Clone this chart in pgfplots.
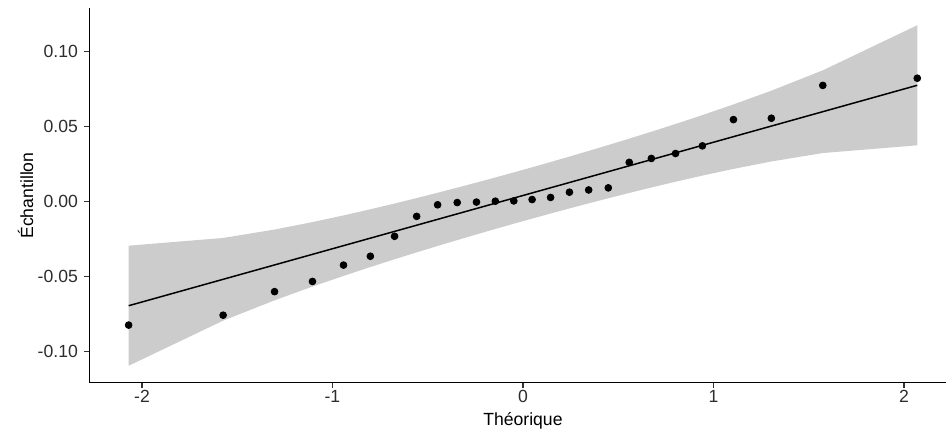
\documentclass[border=0pt]{standalone}
\usepackage{pgfplots}
\pgfplotsset{compat=1.18}
\usepackage{fontspec}
\setmainfont{Liberation Sans}
\definecolor{bandgray}{RGB}{204,204,204}
\definecolor{ticktext}{RGB}{45,45,45}

\begin{document}
\begin{tikzpicture}
\useasboundingbox (-44.65pt,-25.6pt) rectangle (428.35pt,191.4pt);
\begin{axis}[
  at={(0,0)}, anchor=south west,
  scale only axis, width=433.65pt, height=187.3pt,
  xmin=-2.2765, xmax=2.2765, ymin=-0.12088, ymax=0.12888,
  axis lines=left,
  axis line style={-, line width=0.6pt},
  tick align=outside, major tick length=2.6pt,
  tick style={line width=0.6pt, black!80},
  xtick={-2,-1,0,1,2},
  ytick={-0.1,-0.05,0,0.05,0.1},
  scaled y ticks=false,
  /pgf/number format/assume math mode=true,
  yticklabel style={/pgf/number format/fixed, /pgf/number format/fixed zerofill,
    /pgf/number format/precision=2, xshift=0.4pt},
  xticklabel style={yshift=2.5pt},
  tick label style={font=\fontsize{8.8}{10}\selectfont, text=ticktext},
  label style={font=\fontsize{8.8}{10}\selectfont},
  xlabel={Théorique},
  ylabel={Échantillon},
  xlabel style={at={(axis description cs:0.5,-0.114)}, anchor=base},
  ylabel style={at={(axis description cs:-0.0649,0.5)}, anchor=base},
  clip=false,
]
% bande de confiance (bord haut puis bord bas en sens inverse)
\addplot[draw=none, fill=bandgray] coordinates {
  (-2.070,-0.02945) (-1.574,-0.02431) (-1.304,-0.01869) (-1.105,-0.01373)
  (-0.942,-0.00927) (-0.801,-0.00519) (-0.674,-0.00134) (-0.558,0.00230)
  (-0.448,0.00584) (-0.345,0.00923) (-0.244,0.01263) (-0.145,0.01602)
  (-0.048,0.01941) (0.048,0.02281) (0.145,0.02632) (0.244,0.02995)
  (0.345,0.03373) (0.448,0.03764) (0.558,0.04192) (0.674,0.04652)
  (0.801,0.05169) (0.942,0.05761) (1.105,0.06473) (1.304,0.07389)
  (1.574,0.08745) (2.070,0.11753)
  (2.070,0.03745) (1.574,0.03231) (1.304,0.02669) (1.105,0.02173)
  (0.942,0.01727) (0.801,0.01319) (0.674,0.00934) (0.558,0.00570)
  (0.448,0.00216) (0.345,-0.00123) (0.244,-0.00463) (0.145,-0.00802)
  (0.048,-0.01141) (-0.048,-0.01481) (-0.145,-0.01832) (-0.244,-0.02195)
  (-0.345,-0.02573) (-0.448,-0.02964) (-0.558,-0.03392) (-0.674,-0.03852)
  (-0.801,-0.04369) (-0.942,-0.04961) (-1.105,-0.05673) (-1.304,-0.06589)
  (-1.574,-0.07945) (-2.070,-0.10953)
} -- cycle;
% droite de Henry
\addplot[black, line width=0.75pt] coordinates {(-2.070,-0.06949) (2.070,0.07749)};
% points
\addplot[only marks, mark=*, mark size=1.7pt, black] coordinates {
  (-2.070,-0.0824) (-1.574,-0.0758) (-1.304,-0.0601) (-1.105,-0.0533)
  (-0.942,-0.0424) (-0.801,-0.0365) (-0.674,-0.0232) (-0.558,-0.0099)
  (-0.448,-0.0022) (-0.345,-0.0007) (-0.244,-0.0004) (-0.145,0.0002)
  (-0.048,0.0004) (0.048,0.0013) (0.145,0.0027) (0.244,0.0062)
  (0.345,0.0077) (0.448,0.0091) (0.558,0.0261) (0.674,0.0287)
  (0.801,0.0320) (0.942,0.0371) (1.105,0.0546) (1.304,0.0555)
  (1.574,0.0774) (2.070,0.0822)
};
\end{axis}
\end{tikzpicture}
\end{document}
